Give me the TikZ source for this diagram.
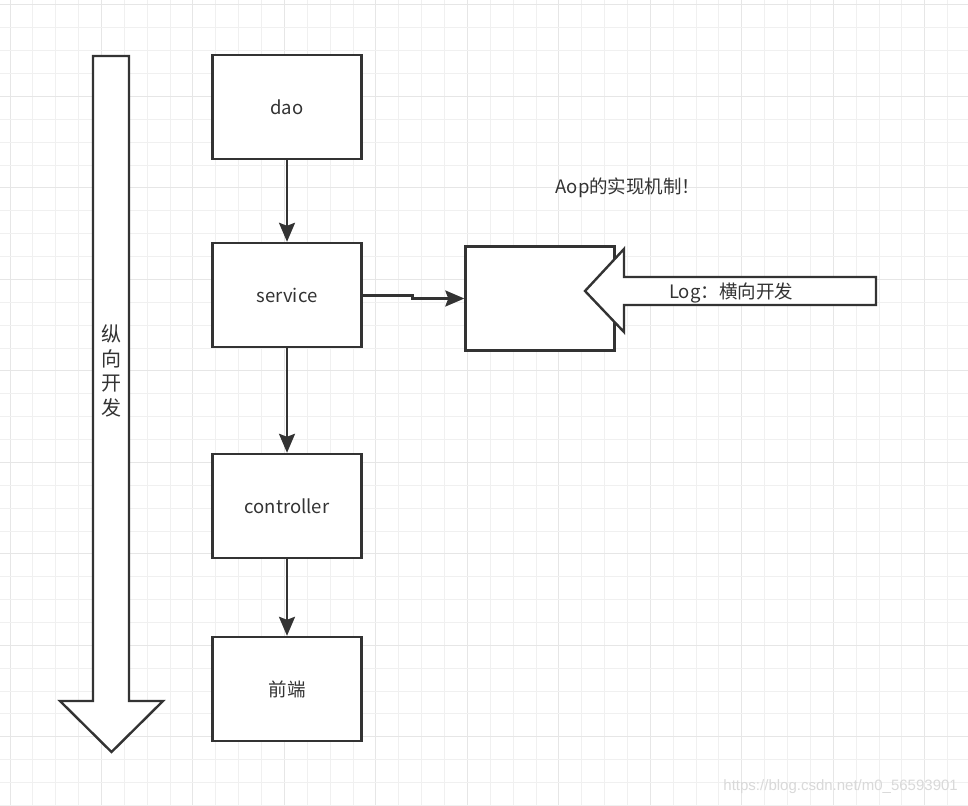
\documentclass[tikz,border=0pt]{standalone}
\usepackage{fontspec}
\setmainfont{Noto Sans CJK SC}
\usetikzlibrary{arrows.meta}
\definecolor{ink}{HTML}{333333}
\definecolor{gridminor}{HTML}{F0F0F0}
\definecolor{gridmajor}{HTML}{E6E6E6}
\tikzset{
  box/.style={draw=ink, line width=2.4pt, fill=white, minimum width=149pt, minimum height=104pt, inner sep=0pt, text=ink, font=\fontsize{18.5}{20}\selectfont},
  conn/.style={draw=ink, line width=2.4pt, -{Stealth[length=19pt,width=16pt,inset=3pt]}},
  bigarrow/.style={draw=ink, line width=2.4pt, fill=white, line join=miter},
  lbl/.style={text=ink, font=\fontsize{18.5}{20}\selectfont, inner sep=0pt}
}
\begin{document}
\begin{tikzpicture}[x=1pt,y=-1pt]
\useasboundingbox (0,0) rectangle (968,805);
\fill[white] (0,0) rectangle (968,805);
% grid
\foreach \i in {0,...,42} {
  \pgfmathsetmacro{\xx}{10+22.87*\i}
  \pgfmathtruncatemacro{\m}{mod(\i,4)}
  \ifnum\m=0
    \draw[gridmajor, line width=1pt] (\xx,0) -- (\xx,805);
  \else
    \draw[gridminor, line width=1pt] (\xx,0) -- (\xx,805);
  \fi
}
\foreach \i in {0,...,35} {
  \pgfmathsetmacro{\yy}{5+22.87*\i}
  \pgfmathtruncatemacro{\m}{mod(\i,4)}
  \ifnum\m=0
    \draw[gridmajor, line width=1pt] (0,\yy) -- (968,\yy);
  \else
    \draw[gridminor, line width=1pt] (0,\yy) -- (968,\yy);
  \fi
}
% vertical big arrow
\draw[bigarrow] (93,56) -- (129,56) -- (129,701) -- (163,701) -- (111.5,752) -- (60,701) -- (93,701) -- cycle;
\node[lbl, align=center, font=\fontsize{20}{24.5}\selectfont] (vdev) at (111.5,371) {纵\\向\\开\\发};
% boxes
\node[box] (dao) at (287,107) {dao};
\node[box] (service) at (287,295) {service};
\node[box] (controller) at (287,506) {controller};
\node[box] (front) at (287,689) {前端};
\node[box] (aop) at (540,298.5) {};
% connectors
\draw[conn] (dao) -- (service);
\draw[conn] (service) -- (controller);
\draw[conn] (controller) -- (front);
\coordinate (s1) at (412.5,295.5);
\coordinate (s2) at (412.5,298.5);
\draw[conn] (service.east |- s1) -- (s1) -- (s2) -- (aop.west |- s2);
% horizontal big arrow
\draw[bigarrow] (876,277) -- (876,305) -- (624,305) -- (624,332) -- (585,291) -- (624,249) -- (624,277) -- cycle;
\node[lbl] (log) at (731,293) {Log：横向开发};
\node[lbl] (title) at (628,188) {Aop的实现机制！};
% watermark
\node[text=black!15, font=\fontsize{15}{17}\selectfont\fontspec{Liberation Sans}, inner sep=0pt, anchor=east] (wm) at (958,787) {https://blog.csdn.net/m0\_56593901};
\end{tikzpicture}
\end{document}
